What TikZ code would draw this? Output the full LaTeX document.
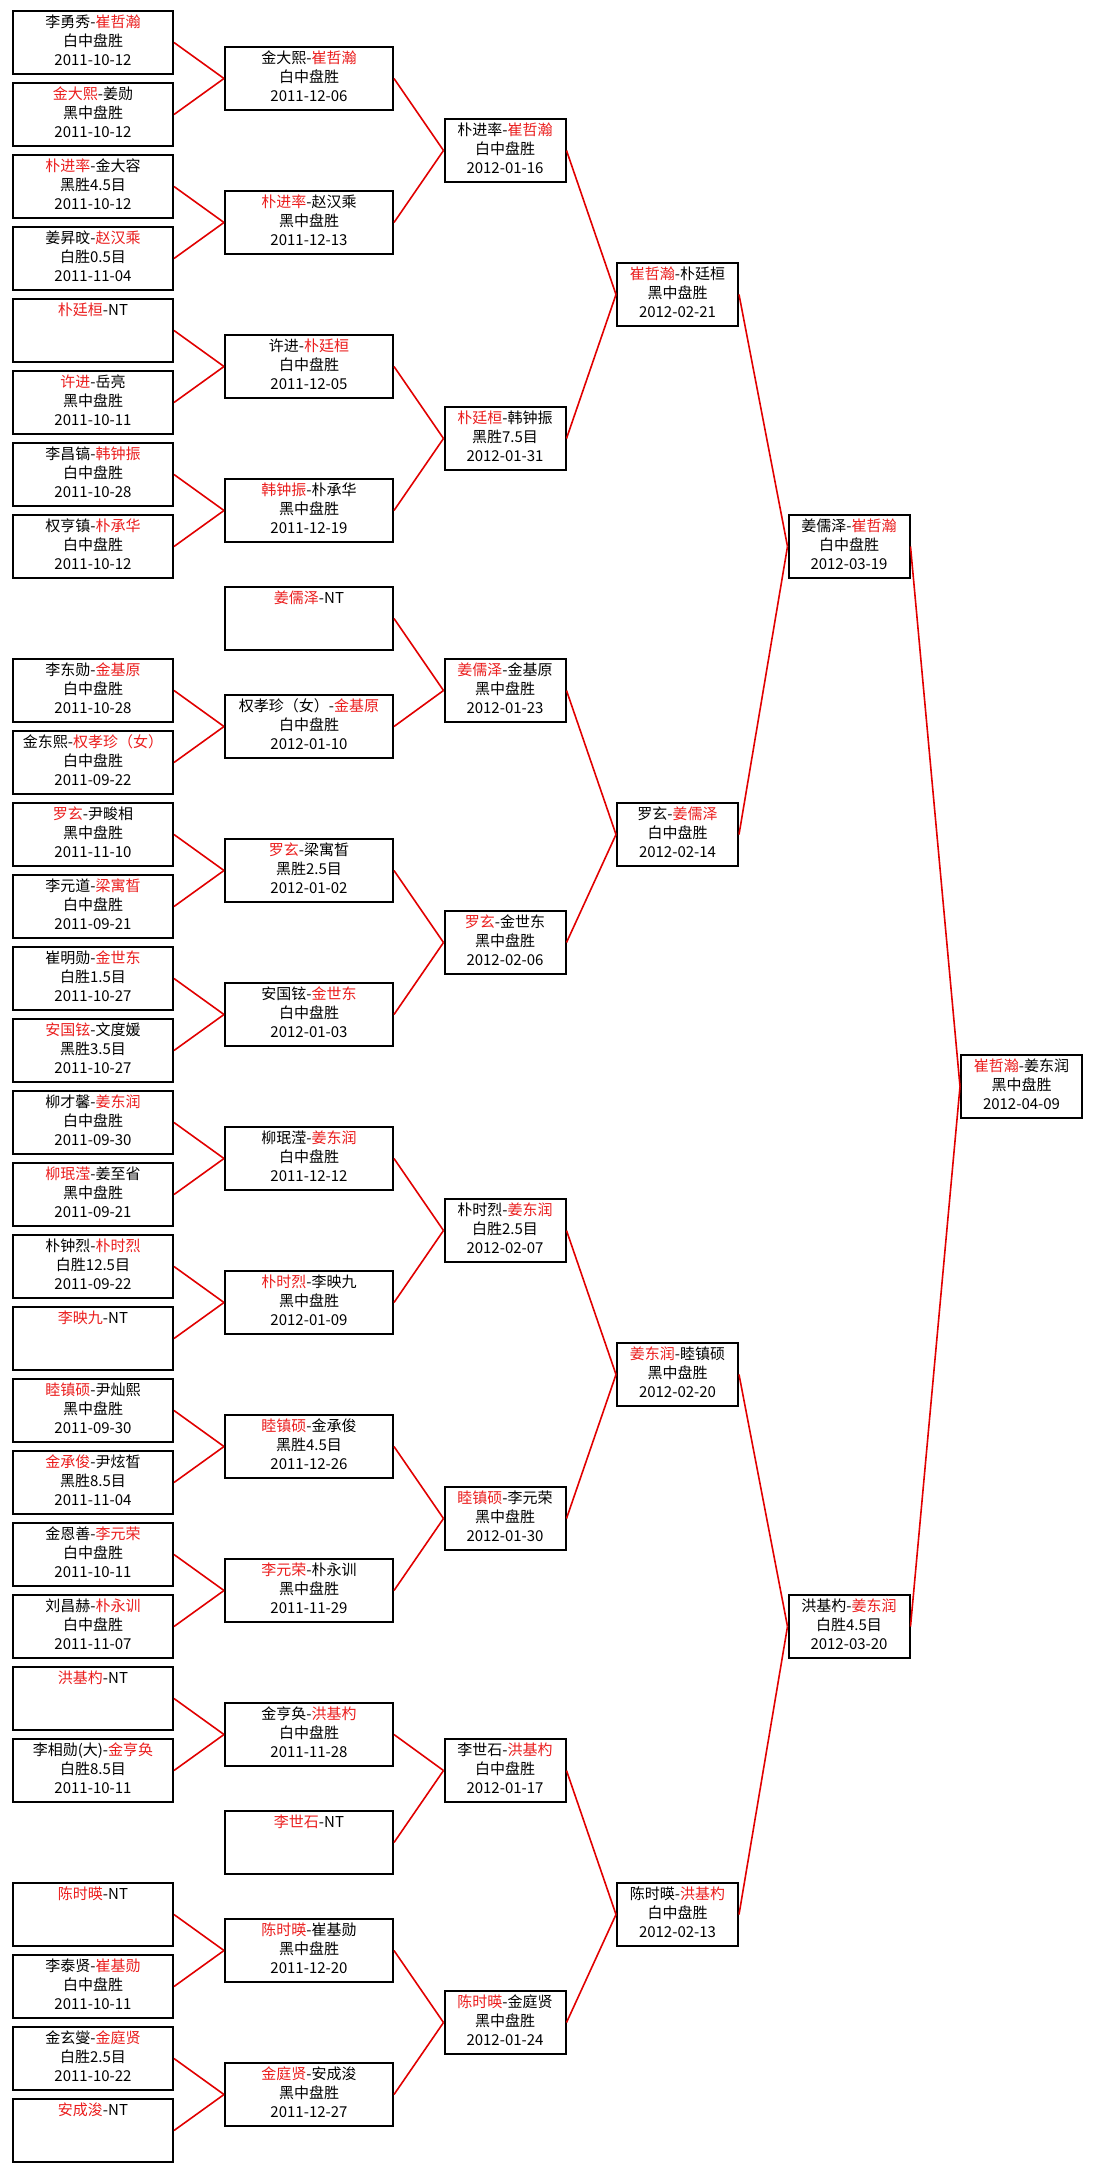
\documentclass[tikz,border=0pt]{standalone}
\usepackage{fontspec}
\setmainfont{Noto Sans CJK SC}
\definecolor{winred}{RGB}{235,30,30}
\definecolor{linkred}{RGB}{225,0,0}
\newcommand{\win}[1]{\textcolor{winred}{#1}}
\newcommand{\sy}[1]{42.5+72*#1}
\newcommand{\res}[3]{\strut#1\\\strut#2\\\strut#3}
\tikzset{
        matchbox/.style={rectangle, draw=black, line width=2pt, fill=white, align=center, inner sep=0pt, minimum height=63pt, font=\fontsize{15pt}{19pt}\selectfont},
        % First round
        round_one/.style={matchbox, minimum width=160pt},
        % Second round
        round_two/.style={matchbox, minimum width=168pt},
        % Later rounds
        round_late/.style={matchbox, minimum width=121pt},
        % Connectors
        link/.style={draw=linkred, line width=1.6pt}
}
\begin{document}
\begin{tikzpicture}[x=1pt, y=-1pt]
    \fill[white] (0,0) rectangle (1092,2173);
    \useasboundingbox (0,0) rectangle (1092,2173);
    \foreach \s/\txt in {
        0/{\res{李勇秀-\win{崔哲瀚}}{白中盘胜}{2011-10-12}},
        1/{\res{\win{金大熙}-姜勋}{黑中盘胜}{2011-10-12}},
        2/{\res{\win{朴进率}-金大容}{黑胜4.5目}{2011-10-12}},
        3/{\res{姜昇旼-\win{赵汉乘}}{白胜0.5目}{2011-11-04}},
        4/{\res{\win{朴廷桓}-NT}{}{}},
        5/{\res{\win{许进}-岳亮}{黑中盘胜}{2011-10-11}},
        6/{\res{李昌镐-\win{韩钟振}}{白中盘胜}{2011-10-28}},
        7/{\res{权亨镇-\win{朴承华}}{白中盘胜}{2011-10-12}},
        9/{\res{李东勋-\win{金基原}}{白中盘胜}{2011-10-28}},
        10/{\res{金东熙-\win{权孝珍（女）}}{白中盘胜}{2011-09-22}},
        11/{\res{\win{罗玄}-尹畯相}{黑中盘胜}{2011-11-10}},
        12/{\res{李元道-\win{梁寓晳}}{白中盘胜}{2011-09-21}},
        13/{\res{崔明勋-\win{金世东}}{白胜1.5目}{2011-10-27}},
        14/{\res{\win{安国铉}-文度媛}{黑胜3.5目}{2011-10-27}},
        15/{\res{柳才馨-\win{姜东润}}{白中盘胜}{2011-09-30}},
        16/{\res{\win{柳珉滢}-姜至省}{黑中盘胜}{2011-09-21}},
        17/{\res{朴钟烈-\win{朴时烈}}{白胜12.5目}{2011-09-22}},
        18/{\res{\win{李映九}-NT}{}{}},
        19/{\res{\win{睦镇硕}-尹灿熙}{黑中盘胜}{2011-09-30}},
        20/{\res{\win{金承俊}-尹炫晳}{黑胜8.5目}{2011-11-04}},
        21/{\res{金恩善-\win{李元荣}}{白中盘胜}{2011-10-11}},
        22/{\res{刘昌赫-\win{朴永训}}{白中盘胜}{2011-11-07}},
        23/{\res{\win{洪基杓}-NT}{}{}},
        24/{\res{李相勋(大)-\win{金亨奂}}{白胜8.5目}{2011-10-11}},
        26/{\res{\win{陈时暎}-NT}{}{}},
        27/{\res{李泰贤-\win{崔基勋}}{白中盘胜}{2011-10-11}},
        28/{\res{金玄燮-\win{金庭贤}}{白胜2.5目}{2011-10-22}},
        29/{\res{\win{安成浚}-NT}{}{}}}
        \node[round_one] (r1_\s) at (93,{\sy{\s}}) {\txt};
    \foreach \i/\s/\txt in {
        0/0.5/{\res{金大熙-\win{崔哲瀚}}{白中盘胜}{2011-12-06}},
        1/2.5/{\res{\win{朴进率}-赵汉乘}{黑中盘胜}{2011-12-13}},
        2/4.5/{\res{许进-\win{朴廷桓}}{白中盘胜}{2011-12-05}},
        3/6.5/{\res{\win{韩钟振}-朴承华}{黑中盘胜}{2011-12-19}},
        4/8/{\res{\win{姜儒泽}-NT}{}{}},
        5/9.5/{\res{权孝珍（女）-\win{金基原}}{白中盘胜}{2012-01-10}},
        6/11.5/{\res{\win{罗玄}-梁寓晳}{黑胜2.5目}{2012-01-02}},
        7/13.5/{\res{安国铉-\win{金世东}}{白中盘胜}{2012-01-03}},
        8/15.5/{\res{柳珉滢-\win{姜东润}}{白中盘胜}{2011-12-12}},
        9/17.5/{\res{\win{朴时烈}-李映九}{黑中盘胜}{2012-01-09}},
        10/19.5/{\res{\win{睦镇硕}-金承俊}{黑胜4.5目}{2011-12-26}},
        11/21.5/{\res{\win{李元荣}-朴永训}{黑中盘胜}{2011-11-29}},
        12/23.5/{\res{金亨奂-\win{洪基杓}}{白中盘胜}{2011-11-28}},
        13/25/{\res{\win{李世石}-NT}{}{}},
        14/26.5/{\res{\win{陈时暎}-崔基勋}{黑中盘胜}{2011-12-20}},
        15/28.5/{\res{\win{金庭贤}-安成浚}{黑中盘胜}{2011-12-27}}}
        \node[round_two] (r2_\i) at (309,{\sy{\s}}) {\txt};
    \foreach \i/\s/\txt in {
        0/1.5/{\res{朴进率-\win{崔哲瀚}}{白中盘胜}{2012-01-16}},
        1/5.5/{\res{\win{朴廷桓}-韩钟振}{黑胜7.5目}{2012-01-31}},
        2/9/{\res{\win{姜儒泽}-金基原}{黑中盘胜}{2012-01-23}},
        3/12.5/{\res{\win{罗玄}-金世东}{黑中盘胜}{2012-02-06}},
        4/16.5/{\res{朴时烈-\win{姜东润}}{白胜2.5目}{2012-02-07}},
        5/20.5/{\res{\win{睦镇硕}-李元荣}{黑中盘胜}{2012-01-30}},
        6/24/{\res{李世石-\win{洪基杓}}{白中盘胜}{2012-01-17}},
        7/27.5/{\res{\win{陈时暎}-金庭贤}{黑中盘胜}{2012-01-24}}}
        \node[round_late] (r3_\i) at (505,{\sy{\s}}) {\txt};
    \foreach \i/\s/\txt in {
        0/3.5/{\res{\win{崔哲瀚}-朴廷桓}{黑中盘胜}{2012-02-21}},
        1/11/{\res{罗玄-\win{姜儒泽}}{白中盘胜}{2012-02-14}},
        2/18.5/{\res{\win{姜东润}-睦镇硕}{黑中盘胜}{2012-02-20}},
        3/26/{\res{陈时暎-\win{洪基杓}}{白中盘胜}{2012-02-13}}}
        \node[round_late] (r4_\i) at (677.5,{\sy{\s}}) {\txt};
    \node[round_late] (r5_0) at (849,{\sy{7}}) {\res{姜儒泽-\win{崔哲瀚}}{白中盘胜}{2012-03-19}};
    \node[round_late] (r5_1) at (849,{\sy{22}}) {\res{洪基杓-\win{姜东润}}{白胜4.5目}{2012-03-20}};
    \node[round_late] (final) at (1021.5,{\sy{14.5}}) {\res{\win{崔哲瀚}-姜东润}{黑中盘胜}{2012-04-09}};
    % connectors
    \foreach \a/\b in {0/0,1/0,2/1,3/1,4/2,5/2,6/3,7/3,9/5,10/5,11/6,12/6,13/7,14/7,15/8,16/8,
                       17/9,18/9,19/10,20/10,21/11,22/11,23/12,24/12,26/14,27/14,28/15,29/15}
        \draw[link] (r1_\a.east) -- (r2_\b.west);
    \foreach \i [evaluate=\i as \j using {int(\i/2)}] in {0,...,15}
        \draw[link] (r2_\i.east) -- (r3_\j.west);
    \foreach \i [evaluate=\i as \j using {int(\i/2)}] in {0,...,7}
        \draw[link] (r3_\i.east) -- (r4_\j.west);
    \foreach \i [evaluate=\i as \j using {int(\i/2)}] in {0,...,3}
        \draw[link] (r4_\i.east) -- (r5_\j.west);
    \draw[link] (r5_0.east) -- (final.west);
    \draw[link] (r5_1.east) -- (final.west);
\end{tikzpicture}
\end{document}
